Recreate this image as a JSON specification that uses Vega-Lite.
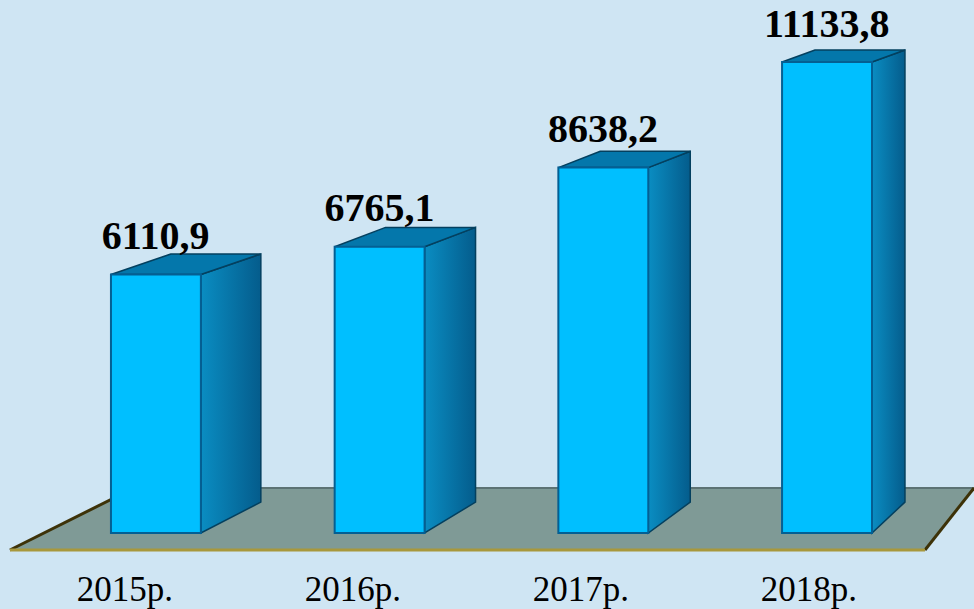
{
"$schema":"https://vega.github.io/schema/vega-lite/v6.json",
"width":974,"height":609,"padding":0,"autosize":{"type":"none"},
"background":"#cfe5f3",
"config":{"view":{"stroke":null}},
"datasets":{
"bars":[
{"year":"2015р.","value":6110.9,"label":"6110,9","i":0},
{"year":"2016р.","value":6765.1,"label":"6765,1","i":1},
{"year":"2017р.","value":8638.2,"label":"8638,2","i":2},
{"year":"2018р.","value":11133.8,"label":"11133,8","i":3}],
"faces":[
{"year":"2015р.","value":6110.9,"i":0,"d":0},
{"year":"2015р.","value":6110.9,"i":0,"d":1},
{"year":"2016р.","value":6765.1,"i":1,"d":0},
{"year":"2016р.","value":6765.1,"i":1,"d":1},
{"year":"2017р.","value":8638.2,"i":2,"d":0},
{"year":"2017р.","value":8638.2,"i":2,"d":1},
{"year":"2018р.","value":11133.8,"i":3,"d":0},
{"year":"2018р.","value":11133.8,"i":3,"d":1}],
"floor":[
{"edge":"front","left":-0.4515,"right":3.639,"level":-402},
{"edge":"back","left":0.103,"right":3.858,"level":1064}]
},
"layer":[
{"data":{"name":"floor"},
 "mark":{"type":"area","orient":"horizontal","fill":"#7f9a96","stroke":null},
 "encoding":{
 "y":{"field":"level","type":"quantitative","scale":{"domain":[-1797,12600],"nice":false,"zero":false},"axis":null},
 "x":{"field":"left","type":"quantitative","scale":{"domain":[-0.496,3.858],"nice":false,"zero":false},"axis":null},
 "x2":{"field":"right"}}},
{"data":{"name":"floor"},"transform":[{"filter":"datum.edge==='back'"}],
 "mark":{"type":"rule","stroke":"#5c7273","strokeWidth":2},
 "encoding":{"y":{"field":"level","type":"quantitative"},"x":{"field":"left","type":"quantitative"},"x2":{"field":"right"}}},
{"data":{"name":"floor"},
 "mark":{"type":"line","stroke":"#3d3208","strokeWidth":3},
 "encoding":{"y":{"field":"level","type":"quantitative"},"x":{"field":"left","type":"quantitative"}}},
{"data":{"name":"floor"},
 "mark":{"type":"line","stroke":"#3d3208","strokeWidth":3},
 "encoding":{"y":{"field":"level","type":"quantitative"},"x":{"field":"right","type":"quantitative"}}},
{"data":{"name":"floor"},"transform":[{"filter":"datum.edge==='front'"}],
 "mark":{"type":"rule","stroke":"#a8983c","strokeWidth":3},
 "encoding":{"y":{"field":"level","type":"quantitative"},"x":{"field":"left","type":"quantitative"},"x2":{"field":"right"}}},
{"data":{"name":"faces"},
 "transform":[
 {"calculate":"datum.i+0.402+datum.d*(0.268-0.0402*datum.i)","as":"sx"},
 {"calculate":"datum.d*730+datum.value*(1-0.04*datum.d)","as":"stop"},
 {"calculate":"datum.d*730","as":"sbot"}],
 "mark":{"type":"area","stroke":"#04405f","strokeWidth":1.5,"fill":{"gradient":"linear","x1":0,"x2":1,"y1":0,"y2":0,"stops":[{"offset":0,"color":"#0a8dc2"},{"offset":1,"color":"#045c8c"}]}},
 "encoding":{"detail":{"field":"year"},
 "x":{"field":"sx","type":"quantitative"},
 "y":{"field":"stop","type":"quantitative"},"y2":{"field":"sbot"}}},
{"data":{"name":"faces"},
 "transform":[
 {"calculate":"datum.i+datum.d*(0.268-0.0402*datum.i)","as":"tl"},
 {"calculate":"datum.tl+0.402","as":"tr"},
 {"calculate":"datum.d*730+datum.value*(1-0.04*datum.d)","as":"ty"}],
 "mark":{"type":"area","orient":"horizontal","fill":"#0477ab","stroke":"#04405f","strokeWidth":1.5},
 "encoding":{"detail":{"field":"year"},
 "y":{"field":"ty","type":"quantitative"},
 "x":{"field":"tl","type":"quantitative"},"x2":{"field":"tr"}}},
{"data":{"name":"bars"},
 "transform":[{"calculate":"datum.i","as":"fl"},{"calculate":"datum.i+0.402","as":"fr"},{"calculate":"0","as":"base"}],
 "mark":{"type":"rect","fill":"#00bfff","stroke":"#045f93","strokeWidth":2},
 "encoding":{"x":{"field":"fl","type":"quantitative"},"x2":{"field":"fr"},
 "y":{"field":"value","type":"quantitative"},"y2":{"field":"base"}}},
{"data":{"name":"bars"},
 "transform":[{"calculate":"datum.i+0.2","as":"lx"},{"calculate":"datum.value+600","as":"ly"}],
 "mark":{"type":"text","font":"Liberation Serif","fontWeight":"bold","fontSize":40,"fill":"#000000","align":"center","baseline":"alphabetic"},
 "encoding":{"x":{"field":"lx","type":"quantitative"},"y":{"field":"ly","type":"quantitative"},"text":{"field":"label"}}},
{"data":{"name":"bars"},
 "transform":[{"calculate":"0.0626+1.019*datum.i","as":"lx"},{"calculate":"-1610","as":"ly"}],
 "mark":{"type":"text","font":"Liberation Serif","fontSize":35,"fill":"#000000","align":"center","baseline":"alphabetic"},
 "encoding":{"x":{"field":"lx","type":"quantitative"},"y":{"field":"ly","type":"quantitative"},"text":{"field":"year"}}}
]
}
